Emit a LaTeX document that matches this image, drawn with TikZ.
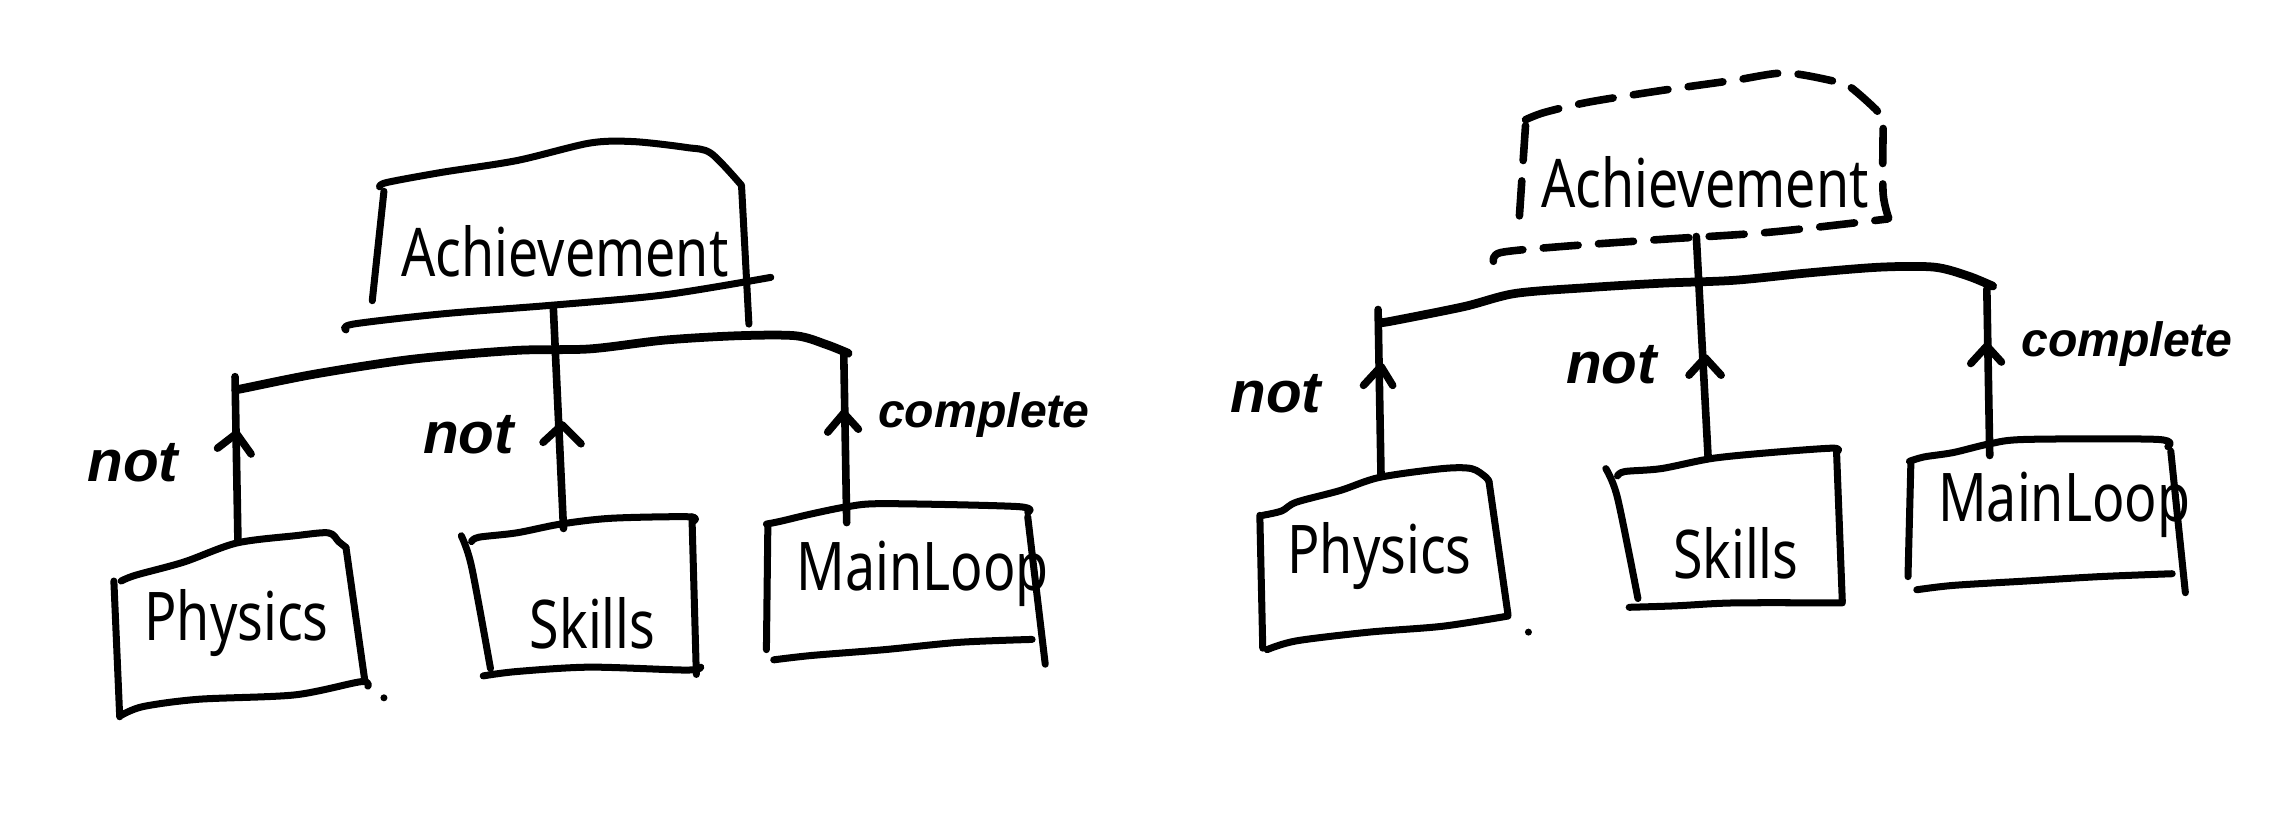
\documentclass[tikz,border=0pt]{standalone}
\usepackage{fontspec}
\newfontfamily\hand[FakeStretch=0.8]{Noto Sans}
\newfontfamily\handb{Liberation Sans}
\begin{document}
\begin{tikzpicture}[x=0.5pt,y=-0.5pt, line cap=round, line join=round,
  box/.style={line width=2.4pt},
  bus/.style={line width=3pt},
  conn/.style={line width=2.6pt},
  dbox/.style={line width=2.6pt, dash pattern=on 12pt off 7pt},
  boxtext/.style={font=\hand\fontsize{23}{26}\selectfont, inner sep=0pt},
  edgelab/.style={font=\handb\bfseries\itshape\fontsize{16.5}{20}\selectfont, inner sep=0pt},
  notlab/.style={font=\handb\bfseries\itshape\fontsize{20}{24}\selectfont, inner sep=0pt}]
\useasboundingbox (0,0) rectangle (1568,568);

% ================= LEFT DIAGRAM =================
% Achievement box
\draw[box] plot[smooth,tension=.5] coordinates {(260,128) (265,125) (303,118) (354,110) (404,98) (434,97) (470,101) (487,105) (508,127)};
\draw[box] (263,131) -- (255,206);
\draw[box] (508,128) -- (513,222);
\draw[box] plot[smooth,tension=.5] coordinates {(237,226) (242,222) (303,215) (379,209) (455,202) (528,190)};
\node[boxtext] (LA) at (387,172) {Achievement};

% bus
\draw[bus] plot[smooth,tension=.5] coordinates {(162,267) (167,266) (217,256) (283,246) (354,240) (404,239) (455,233) (505,230) (545,230) (566,236) (581,242)};

% Physics box
\draw[box] plot[smooth,tension=.5] coordinates {(83,398) (93,394) (126,385) (162,372) (202,367) (225,365) (232,371) (237,375)};
\draw[box] (78,398) -- (82,491);
\draw[box] (237,375) -- (250,467);
\draw[box] plot[smooth,tension=.5] coordinates {(83,490) (98,484) (136,479) (202,476) (247,467) (252,470)};
\fill (263,478) circle (1.2pt);
\node[boxtext] (LP) at (162,427) {Physics};

% Skills box
\draw[box] plot[smooth,tension=.5] coordinates {(323,371) (328,368) (354,365) (384,359) (419,355) (472,354) (475,357)};
\draw[box] plot[smooth,tension=.5] coordinates {(316,367) (323,388) (336,458)};
\draw[box] (474,354) -- (477,462);
\draw[box] plot[smooth,tension=.5] coordinates {(331,463) (354,460) (404,457) (470,459) (480,457)};
\node[boxtext] (LS) at (406,427) {Skills};

% MainLoop box
\draw[box] plot[smooth,tension=.5] coordinates {(525,359) (535,357) (556,352) (581,347) (606,345) (697,347) (704,351)};
\draw[box] (526,359) -- (525,445);
\draw[box] (704,354) -- (716,455);
\draw[box] plot[smooth,tension=.5] coordinates {(530,452) (556,449) (606,445) (657,440) (707,438)};
\node[boxtext] (LM) at (632,393) {MainLoop};

% connectors
\coordinate (LAb) at (379,210);
\coordinate (LSt) at (386,362);
\coordinate (LBl) at (161,258);
\coordinate (LPt) at (163,371);
\coordinate (LBr) at (578,243);
\coordinate (LMt) at (580,358);
\draw[conn] (LAb) -- (LSt);
\draw[conn] (LBl) -- (LPt);
\draw[conn] (LBr) -- (LMt);
% arrowheads
\draw[conn] (149,307) -- (162,297) -- (172,311);
\draw[conn] (372,303) -- (385,291) -- (398,304);
\draw[conn] (567,296) -- (578,283) -- (588,294);
% labels
\node[notlab] (Ln1) at (91,317) {not};
\node[notlab] (Ln2) at (321,298) {not};
\node[edgelab] (Lc) at (674,284) {complete};

% ================= RIGHT DIAGRAM =================
% Achievement dashed box
\draw[dbox] plot[smooth,tension=.5] coordinates {(1045,82) (1058,77) (1088,70) (1138,62) (1188,55) (1223,50) (1258,56) (1268,60) (1285,75) (1290,82)};
\draw[dbox] (1045,86) -- (1040,160);
\draw[dbox] plot[smooth,tension=.5] coordinates {(1290,88) (1290,133) (1295,153)};
\draw[dbox] plot[smooth,tension=.5] coordinates {(1023,179) (1028,173) (1068,169) (1138,164) (1213,159) (1293,150)};
\node[boxtext] (RA) at (1168,125) {Achievement};

% bus
\draw[bus] plot[smooth,tension=.5] coordinates {(945,221) (953,220) (1003,210) (1038,201) (1088,197) (1138,194) (1188,192) (1238,187) (1288,183) (1325,183) (1348,189) (1365,196)};

% Physics box
\draw[box] plot[smooth,tension=.5] coordinates {(865,353) (878,350) (888,344) (918,336) (945,327) (988,321) (1008,321) (1018,327) (1020,330)};
\draw[box] (863,353) -- (865,444);
\draw[box] (1020,330) -- (1033,421);
\draw[box] plot[smooth,tension=.5] coordinates {(868,445) (888,439) (938,433) (988,429) (1033,422)};
\fill (1047,433) circle (1.2pt);
\node[boxtext] (RP) at (945,381) {Physics};

% Skills box
\draw[box] plot[smooth,tension=.5] coordinates {(1108,326) (1113,323) (1138,321) (1173,314) (1213,310) (1255,307) (1259,309)};
\draw[box] plot[smooth,tension=.5] coordinates {(1100,321) (1108,341) (1122,410)};
\draw[box] (1258,308) -- (1262,412);
\draw[box] plot[smooth,tension=.5] coordinates {(1116,416) (1148,415) (1188,413) (1262,413)};
\node[boxtext] (RS) at (1189,379) {Skills};

% MainLoop box
\draw[box] plot[smooth,tension=.5] coordinates {(1308,316) (1318,313) (1338,310) (1363,304) (1388,301) (1478,301) (1485,306)};
\draw[box] (1309,316) -- (1307,395);
\draw[box] (1487,309) -- (1497,406);
\draw[box] plot[smooth,tension=.5] coordinates {(1313,404) (1338,401) (1388,398) (1438,395) (1488,393)};
\node[boxtext] (RM) at (1414,346) {MainLoop};

% connectors
\coordinate (RAb) at (1162,162);
\coordinate (RSt) at (1170,312);
\coordinate (RBl) at (944,212);
\coordinate (RPt) at (946,325);
\coordinate (RBr) at (1361,198);
\coordinate (RMt) at (1363,312);
\draw[conn] (RAb) -- (RSt);
\draw[conn] (RBl) -- (RPt);
\draw[conn] (RBr) -- (RMt);
% arrowheads
\draw[conn] (934,264) -- (946,251) -- (954,264);
\draw[conn] (1157,257) -- (1168,245) -- (1179,257);
\draw[conn] (1350,249) -- (1361,237) -- (1371,248);
% labels
\node[notlab] (Rn1) at (874,270) {not};
\node[notlab] (Rn2) at (1104,250) {not};
\node[edgelab] (Rc) at (1457,236) {complete};
\end{tikzpicture}
\end{document}
